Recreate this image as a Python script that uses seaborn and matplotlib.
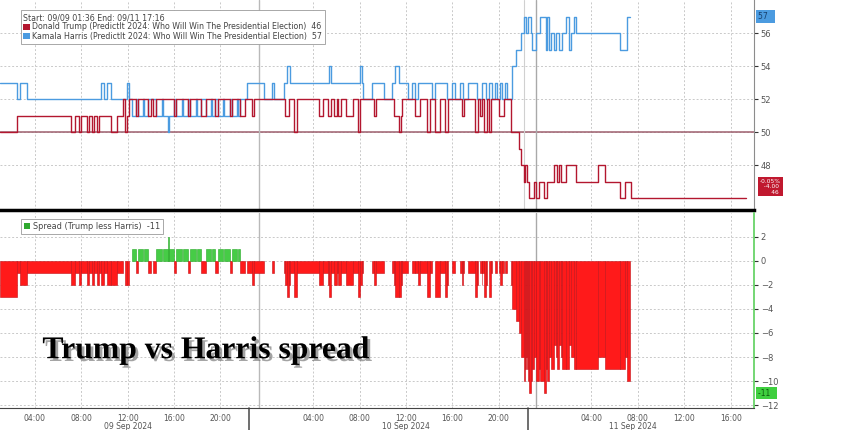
import numpy as np
import pandas as pd
import matplotlib
matplotlib.use("Agg")
import matplotlib.pyplot as plt
import matplotlib.patheffects as pe
from matplotlib.patches import Patch
from matplotlib.transforms import blended_transform_factory
import seaborn as sns

# hours since 09 Sep 2024 00:00 (step changes)
trump_hours = [1.00, 2.45, 7.14, 7.48, 7.82, 7.99, 8.50, 8.67, 8.93, 9.10, 9.35, 9.53, 10.55, 11.06, 11.57, 11.74, 11.91, 12.08,
               12.76, 12.94, 13.79, 14.04, 14.21, 14.47, 16.00, 16.17, 17.20, 17.37, 18.31, 18.73, 19.50, 19.76, 20.86, 21.03, 21.72, 22.14,
               22.74, 22.91, 25.55, 25.89, 26.32, 26.58, 28.54, 28.88, 29.30, 29.56, 29.81, 30.07, 30.16, 30.41, 30.84, 31.43, 31.86, 32.03, 33.22, 33.40,
               34.93, 35.44, 35.61, 35.70, 36.81, 37.23, 37.83, 38.08, 38.51, 38.94, 39.36, 39.62, 40.81, 40.98,
               41.92, 42.18, 42.35, 42.60, 42.77, 43.03, 43.20, 43.37, 44.05, 44.48, 45.07, 45.76, 45.93,
               46.18, 46.27, 46.44, 46.61, 47.04, 47.21, 47.46, 47.89, 48.14, 48.74, 49.00, 49.17, 49.34, 49.76, 50.70, 52.58, 53.17, 54.45, 54.88, 55.39, 65.3]
trump_values = [50, 51, 50, 51, 50, 51, 50, 51, 50, 51, 50, 51, 50, 51, 52, 50, 51, 52,
                51, 52, 51, 52, 51, 52, 51, 52, 51, 52, 51, 52, 51, 52, 51, 52, 51, 52,
                51, 52, 51, 52, 50, 52, 51, 52, 51, 52, 51, 52, 51, 52, 51, 52, 50, 52, 51, 52,
                51, 50, 51, 52, 51, 52, 50, 52, 50, 52, 50, 52, 51, 52,
                50, 52, 51, 52, 50, 52, 50, 52, 51, 52, 50, 49, 48,
                47, 48, 47, 46, 47, 46, 47, 46, 47, 48, 47, 48, 47, 48, 47, 48, 47, 46, 47, 46, 46]

harris_hours = [1.00, 2.45, 2.71, 3.30, 9.70, 9.95, 10.21, 10.55, 11.91, 12.08, 12.34,
                12.76, 12.94, 13.36, 13.45, 13.79, 14.47, 14.98, 15.07, 15.49, 15.58, 16.00, 16.17, 16.69, 16.77, 17.20, 17.37,
                17.88, 17.96, 18.31, 18.73, 19.16, 19.24, 19.50, 19.76, 20.27, 20.35, 20.86, 21.03, 21.46, 21.55, 21.72,
                22.31, 23.76, 24.44, 24.61, 25.47, 25.72, 25.98, 29.39, 29.56, 32.03, 32.20, 32.29, 33.05, 34.08, 34.76, 35.10, 35.44, 36.21, 36.55,
                36.81, 37.06, 38.25, 38.51, 39.53, 39.96, 40.22, 40.64, 40.90, 41.32, 42.09, 42.52, 42.94, 43.20, 43.45, 43.71, 43.88, 44.14,
                44.31, 44.56, 44.73, 45.16, 45.50, 45.93,
                46.18, 46.35, 46.52, 46.78, 46.86, 47.21, 47.55, 48.06, 48.14, 48.31, 48.48, 48.74, 48.91, 49.17, 49.42, 49.76,
                50.10, 50.27, 50.53, 50.70, 54.45, 55.05, 55.30]
harris_values = [53, 52, 53, 52, 53, 52, 53, 52, 53, 52, 51,
                 52, 51, 52, 51, 52, 51, 52, 51, 50, 51, 52, 51, 52, 51, 52, 51,
                 52, 51, 52, 51, 52, 51, 52, 51, 52, 51, 52, 51, 52, 51, 52,
                 53, 52, 53, 52, 53, 54, 53, 54, 53, 54, 53, 52, 53, 52, 53, 54, 53, 52, 53,
                 52, 53, 52, 53, 52, 53, 52, 53, 52, 53, 52, 53, 52, 53, 52, 53, 52, 53,
                 52, 53, 52, 54, 55, 56,
                 57, 56, 57, 56, 55, 56, 57, 55, 57, 55, 56, 55, 56, 55, 56, 57,
                 55, 56, 57, 56, 55, 57, 57]

tick_hours = [4, 8, 12, 16, 20, 28, 32, 36, 40, 44, 52, 56, 60, 64]
tick_labels = ["04:00", "08:00", "12:00", "16:00", "20:00", "04:00", "08:00", "12:00",
               "16:00", "20:00", "04:00", "08:00", "12:00", "16:00"]
day_labels = ["09 Sep 2024", "10 Sep 2024", "11 Sep 2024"]
day_label_hours = [12, 36, 55.6]
top_ticks = [48, 50, 52, 54, 56]
bottom_ticks = [2, 0, -2, -4, -6, -8, -10, -12]

TRUMP_C = "#b3172f"
HARRIS_C = "#4b9be0"
GRID_C = "#c9c9c9"

# spread = Trump less Harris, on the merged step grid
t_ser = pd.Series(trump_values, index=trump_hours)
h_ser = pd.Series(harris_values, index=harris_hours)
grid = sorted(set(trump_hours) | set(harris_hours))
grid = [g for g in grid if g <= harris_hours[-1]]
spread = (t_ser.reindex(grid, method="ffill") - h_ser.reindex(grid, method="ffill")).values

sns.set_style("white")
plt.rcParams["font.family"] = ["DejaVu Sans"]

fig = plt.figure(figsize=(8.48, 4.30), dpi=100)
ax1 = fig.add_axes([0.0, 0.512, 0.889, 0.488])
ax2 = fig.add_axes([0.0, 0.051, 0.889, 0.454], sharex=ax1)

# ---- top panel
ax1.axhline(50, color="#9e5f6e", lw=1.1, zorder=1)
sns.lineplot(x=trump_hours, y=trump_values, ax=ax1, color=TRUMP_C, lw=1.0,
             drawstyle="steps-post", zorder=3)
sns.lineplot(x=harris_hours, y=harris_values, ax=ax1, color=HARRIS_C, lw=1.0,
             drawstyle="steps-post", zorder=2)
ax1.set_ylim(45.3, 58.0)
ax1.set_yticks(top_ticks)

# ---- bottom panel
left = np.array(grid[:-1])
widths = np.diff(grid)
heights = spread[:-1]
keep = heights != 0
face = np.where(heights[keep] < 0, "#ff1a1a", "#46cc46")
edge = np.where(heights[keep] < 0, "#c40d14", "#25a825")
ax2.bar(left[keep], heights[keep], width=widths[keep], align="edge",
        color=face, edgecolor=edge, linewidth=0.4, zorder=3)
ax2.set_ylim(-12.25, 4.0)
ax2.set_yticks(bottom_ticks)
ax2.set_xlim(1.0, 65.3)

for ax in (ax1, ax2):
    ax.set_xticks(tick_hours)
    ax.set_xticks([h + 2 for h in tick_hours] + [2, 26, 50], minor=True)
    ax.grid(True, axis="both", which="major", color=GRID_C, linestyle=(0, (2, 2)), lw=0.7)
    ax.set_axisbelow(True)
    ax.yaxis.tick_right()
    ax.tick_params(axis="y", which="both", direction="out", length=3, width=0.8,
                   labelsize=6, colors="#333333", labelcolor="#555555", pad=2)
    for s in ("top", "left"):
        ax.spines[s].set_visible(False)
    ax.axvline(23.3, color="#b9b9b9", lw=1.0, zorder=1)
    ax.axvline(47.2, color="#a9a9a9", lw=1.0, zorder=1)
    ax.set_xlabel("")
    ax.set_ylabel("")

ax1.axvline(46.2, color="#d0d0d0", lw=0.8, zorder=1)
ax1.tick_params(axis="x", which="both", bottom=False, labelbottom=False)
ax1.spines["bottom"].set_color("black")
ax1.spines["bottom"].set_linewidth(2.5)
ax1.spines["right"].set_color("#8c8c8c")
ax2.spines["right"].set_color("#5ccf5c")
ax2.spines["right"].set_linewidth(1.2)
ax2.spines["bottom"].set_color("#444444")
ax2.spines["bottom"].set_linewidth(0.8)
ax2.spines["top"].set_visible(False)
ax2.set_xticklabels(tick_labels)
ax2.tick_params(axis="x", which="major", length=3, labelsize=5.5, labelcolor="#555555", pad=1.5)
ax2.tick_params(axis="x", which="minor", length=2)

# day separators under the axis and day labels
tr2 = blended_transform_factory(ax2.transData, ax2.transAxes)
for hsep in (22.5, 46.5):
    ax2.plot([hsep, hsep], [0, -0.12], transform=tr2, color="#555555", lw=1.2, clip_on=False)
for lbl, hx in zip(day_labels, day_label_hours):
    ax2.text(hx, -0.095, lbl, transform=tr2, ha="center", va="center", fontsize=5.5, color="#555555")

# value badges on the right axis
tr1 = blended_transform_factory(ax1.transAxes, ax1.transData)
ax1.text(1.006, 57, "57  ", transform=tr1, ha="left", va="center", fontsize=5.5, color="#17406e",
         bbox=dict(boxstyle="square,pad=0.25", fc=HARRIS_C, ec="none"), clip_on=False)
ax1.text(1.008, 46.7, "-0.05%\n  -4.00\n      46", transform=tr1, ha="left", va="center",
         fontsize=4.2, color="white", linespacing=1.1,
         bbox=dict(boxstyle="square,pad=0.3", fc="#c0182f", ec="none"), clip_on=False)
tr2y = blended_transform_factory(ax2.transAxes, ax2.transData)
ax2.text(1.006, -11, "-11  ", transform=tr2y, ha="left", va="center", fontsize=5.5, color="#0d5a0d",
         bbox=dict(boxstyle="square,pad=0.25", fc="#3fcf3f", ec="none"), clip_on=False)

# legends
h_trump = Patch(facecolor=TRUMP_C, edgecolor="none")
h_harris = Patch(facecolor=HARRIS_C, edgecolor="none")
leg1 = ax1.legend([h_trump, h_harris],
                  ["Donald Trump (PredictIt 2024: Who Will Win The Presidential Election)  46",
                   "Kamala Harris (PredictIt 2024: Who Will Win The Presidential Election)  57"],
                  title="Start: 09/09 01:36 End: 09/11 17:16", loc="upper left",
                  bbox_to_anchor=(0.022, 0.97), fontsize=5.7, title_fontsize=5.7,
                  handlelength=0.8, handleheight=0.8, handletextpad=0.3, labelspacing=0.05,
                  borderpad=0.35, frameon=True, fancybox=False, edgecolor="#9a9a9a", framealpha=1)
leg1._legend_box.align = "left"
leg1.get_frame().set_linewidth(0.6)
for t in leg1.get_texts() + [leg1.get_title()]:
    t.set_color("#444444")

h_spread = Patch(facecolor="#2fa82f", edgecolor="none")
leg2 = ax2.legend([h_spread], ["Spread (Trump less Harris)  -11"], loc="upper left",
                  bbox_to_anchor=(0.022, 0.99), fontsize=5.9, handlelength=0.8, handleheight=0.8,
                  handletextpad=0.3, borderpad=0.35, frameon=True, fancybox=False,
                  edgecolor="#9a9a9a", framealpha=1)
leg2.get_frame().set_linewidth(0.6)
for t in leg2.get_texts():
    t.set_color("#444444")

# headline
fig.text(0.05, 0.167, "Trump vs Harris spread", fontsize=22.8, fontfamily="Liberation Serif",
         fontweight="bold", color="black", va="baseline",
         path_effects=[pe.withSimplePatchShadow(offset=(2, -2), shadow_rgbFace="#666666", alpha=0.6)])

fig.savefig("out.png", dpi=100, facecolor="white")
